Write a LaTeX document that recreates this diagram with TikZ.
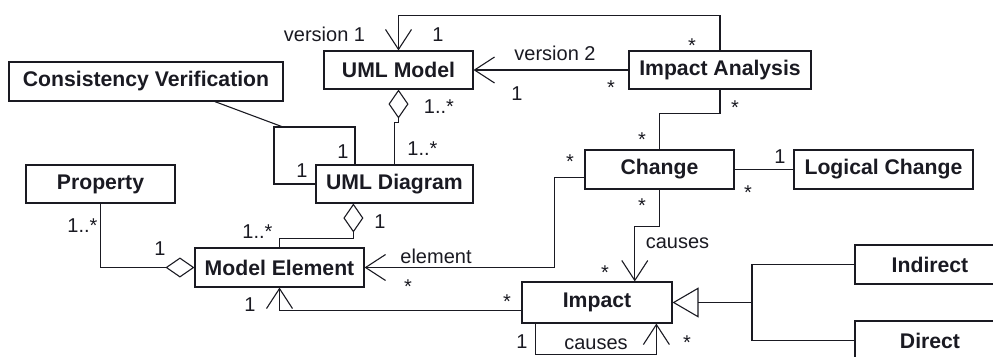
\documentclass[tikz,border=0pt]{standalone}
\usepackage{fontspec}
\setmainfont{Liberation Sans}
\usetikzlibrary{arrows.meta,calc}
\definecolor{ink}{HTML}{1A1A22}
\tikzset{
  cls/.style={draw=ink, line width=1.1pt, text=ink, inner sep=0pt,
    minimum height=38pt, font=\fontsize{21.2}{24}\selectfont\bfseries},
  lbl/.style={anchor=base, inner sep=0pt, text=ink,
    font=\fontsize{20}{24}\selectfont},
  link/.style={draw=ink, line width=1.1pt},
  nav/.style={link, -{Straight Barb[length=20pt,width=26pt]}},
  aggr/.style={link, {Diamond[open,length=29pt,width=20pt]}-},
  aggrend/.style={link, -{Diamond[open,length=29pt,width=20pt]}},
  gen/.style={link, -{Triangle[open,length=26pt,width=30pt]}}
}
\begin{document}
\begin{tikzpicture}[x=1pt,y=-1pt]
\useasboundingbox (0,0) rectangle (993,356);
\clip (0,0) rectangle (993,356);

% classes
\node[cls, minimum width=149pt] (um) at (398.5,70) {UML Model};
\node[cls, minimum width=182pt] (ia) at (720,70) {Impact Analysis};
\node[cls, minimum width=274pt, minimum height=39pt] (cv) at (146,81.5) {Consistency Verification};
\node[cls, minimum width=149pt] (pr) at (100.5,184) {Property};
\node[cls, minimum width=157pt] (ud) at (394.5,184) {UML Diagram};
\node[cls, minimum width=149pt, minimum height=39pt] (ch) at (659.5,169.5) {Change};
\node[cls, minimum width=179pt, minimum height=39pt] (lc) at (883.5,169.5) {Logical Change};
\node[cls, minimum width=169pt, minimum height=39pt] (me) at (279.5,267.5) {Model Element};
\node[cls, minimum width=150pt, minimum height=41pt] (im) at (597,302.5) {Impact};
\node[cls, minimum width=150pt, minimum height=39pt] (ind) at (930,264.5) {Indirect};
\node[cls, minimum width=150pt, minimum height=39pt] (dir) at (930,340.5) {Direct};

% attachment points
\coordinate (cvb) at ($(cv.south west)!0.75!(cv.south east)$);
\coordinate (cvj) at (283,127);
\coordinate (udt) at ($(ud.north west)!0.25!(ud.north east)$);
\coordinate (udb) at ($(ud.south west)!0.24!(ud.south east)$);
\coordinate (chw) at ($(ch.north west)!0.7!(ch.south west)$);
\coordinate (imt) at ($(im.north west)!0.75!(im.north east)$);
\coordinate (imb1) at ($(im.south west)!0.093!(im.south east)$);
\coordinate (imb2) at ($(im.south west)!0.893!(im.south east)$);
\coordinate (imw) at ($(im.north west)!0.7!(im.south west)$);
\coordinate (gj) at (752,302.5);

% associations
\draw[nav] (ia.north) -- ++(0,-35) -| (um.north);
\draw[nav] (ia.west) -- (um.east);
\draw[aggr] (um.south) -- ++(0,33) -| (ud.north);
\draw[link] (ud.west) -| (274,127) -| (udt);
\draw[link] (cvb) -- (cvj);
\draw[aggr] (udb) -- ++(0,35) -| (me.north);
\draw[aggrend] (pr.south) |- (me.west);
\draw[nav] (chw) -- ++(-30,0) |- (me.east);
\draw[link] (ia.south) -- ++(0,24) -| (ch.north);
\draw[link] (ch.east) -- (lc.west);
\draw[nav] (ch.south) -- ++(0,37) -| (imt);
\draw[nav] (imb1) -- ++(0,31) -| (imb2);
\draw[nav] (imw) -| (me.south);

% generalization
\draw[gen] (gj) -- (im.east);
\draw[link] (ind.west) -| (gj);
\draw[link] (dir.west) -| (gj);

% role names and multiplicities
\node[lbl] (l1) at (324.5,41) {version 1};
\node[lbl] (l2) at (438,41) {1};
\node[lbl] (l3) at (692,52) {*};
\node[lbl] (l4) at (555,60) {version 2};
\node[lbl] (l5) at (517,100) {1};
\node[lbl] (l6) at (611,94) {*};
\node[lbl] (l7) at (439,113) {1..*};
\node[lbl] (l8) at (422.5,155) {1..*};
\node[lbl] (l9) at (343,158) {1};
\node[lbl] (l10) at (302,177) {1};
\node[lbl] (l11) at (380,228) {1};
\node[lbl] (l12) at (257.5,238) {1..*};
\node[lbl] (l13) at (82.5,232) {1..*};
\node[lbl] (l14) at (160,255) {1};
\node[lbl] (l15) at (436,263) {element};
\node[lbl] (l16) at (408,293) {*};
\node[lbl] (l17) at (570,168) {*};
\node[lbl] (l18) at (735,114) {*};
\node[lbl] (l19) at (642,146) {*};
\node[lbl] (l20) at (780,163) {1};
\node[lbl] (l21) at (748,199) {*};
\node[lbl] (l22) at (642,212) {*};
\node[lbl] (l23) at (677.5,248) {causes};
\node[lbl] (l24) at (605,279) {*};
\node[lbl] (l25) at (596,349) {causes};
\node[lbl] (l26) at (522,348) {1};
\node[lbl] (l27) at (687,349) {*};
\node[lbl] (l28) at (250,311) {1};
\node[lbl] (l29) at (507,308) {*};
\end{tikzpicture}
\end{document}
